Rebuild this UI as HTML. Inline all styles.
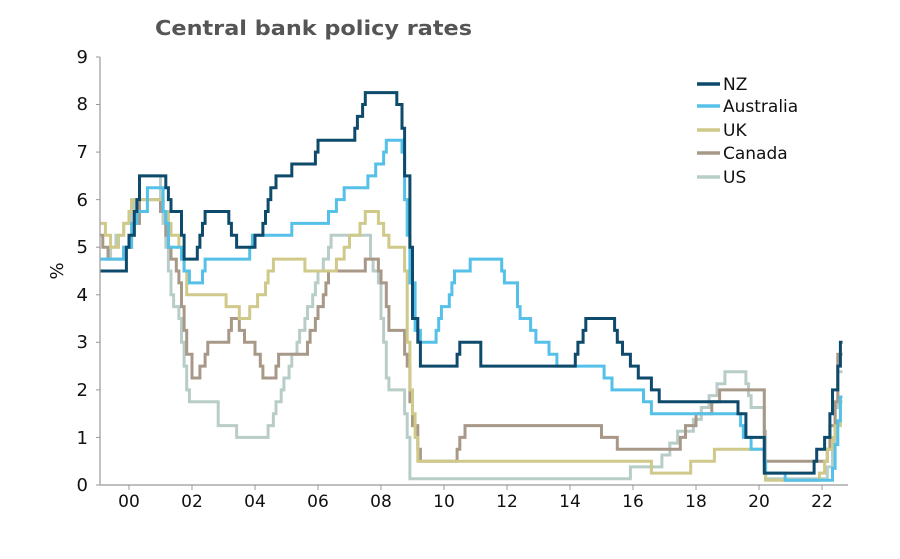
<!DOCTYPE html>
<html><head><meta charset="utf-8"><style>
html,body{margin:0;padding:0;background:#fff}
svg{display:block}
text{font-family:"DejaVu Sans","Liberation Sans",sans-serif}
</style></head><body>
<svg id="c" width="900" height="559" viewBox="0 0 900 559" xmlns="http://www.w3.org/2000/svg">
<text x="155" y="35" font-size="20" font-weight="bold" fill="#555" textLength="317" lengthAdjust="spacingAndGlyphs">Central bank policy rates</text>
<line x1="100" y1="57" x2="100" y2="485" stroke="#999" stroke-width="1.2"/>
<line x1="100" y1="485" x2="848" y2="485" stroke="#999" stroke-width="1.2"/>
<g font-size="18" fill="#111" text-anchor="end">
<text x="88" y="491">0</text><text x="88" y="444">1</text><text x="88" y="396">2</text><text x="88" y="348">3</text><text x="88" y="301">4</text><text x="88" y="253">5</text><text x="88" y="206">6</text><text x="88" y="158">7</text><text x="88" y="110">8</text><text x="88" y="63">9</text>
</g>
<g id="yt" stroke="#999" stroke-width="1"></g>
<g id="xt" stroke="#999" stroke-width="1"></g>
<g id="xl" font-size="17" fill="#111" text-anchor="middle"></g>
<text transform="translate(63,271) rotate(-90)" font-size="18" fill="#111" text-anchor="middle">%</text>
<g id="series" fill="none" stroke-width="3" stroke-linejoin="miter"></g>
<g font-size="17" fill="#111">
<line x1="697" y1="84" x2="720" y2="84" stroke="#0d4a6b" stroke-width="3.5"/><text x="723" y="90">NZ</text>
<line x1="697" y1="106" x2="720" y2="106" stroke="#55c0e8" stroke-width="3.5"/><text x="723" y="112">Australia</text>
<line x1="697" y1="130" x2="720" y2="130" stroke="#cfc98a" stroke-width="3.5"/><text x="723" y="136">UK</text>
<line x1="697" y1="153" x2="720" y2="153" stroke="#a89888" stroke-width="3.5"/><text x="723" y="159">Canada</text>
<line x1="697" y1="177" x2="720" y2="177" stroke="#b8cdc8" stroke-width="3.5"/><text x="723" y="183">US</text>
</g>
</svg>
<script>
var NS="http://www.w3.org/2000/svg";
function X(t){return 129+31.5*(t-2000);}
function Y(v){return 485-47.56*v;}
function el(p,n,a){var e=document.createElementNS(NS,n);for(var k in a)e.setAttribute(k,a[k]);p.appendChild(e);return e;}
var xt=document.getElementById('xt'),xl=document.getElementById('xl');
for(var i=0;i<=11;i++){var x=X(2000+2*i);el(xt,'line',{x1:x,y1:485,x2:x,y2:490});var t=el(xl,'text',{x:x,y:507});t.textContent=(i*2<10?'0':'')+(i*2);}
for(var v=0;v<=9;v++){el(document.getElementById('yt'),'line',{x1:96,y1:Y(v),x2:100,y2:Y(v)});}
function m(y,mo){return y+(mo-1)/12;}
var END=2022.65;
var S={
US:["#b8cdc8",[[1999.1,4.75],[m(1999,6),5.0],[m(1999,8),5.25],[m(1999,11),5.5],[m(2000,2),5.75],[m(2000,3),6.0],[m(2000,5),6.5],[m(2001,1),6.0],[m(2001,2),5.5],[m(2001,3),5.0],[m(2001,4),4.5],[m(2001,5),4.0],[m(2001,6),3.75],[m(2001,8),3.5],[m(2001,9),3.0],[m(2001,10),2.5],[m(2001,11),2.0],[m(2001,12),1.75],[m(2002,11),1.25],[m(2003,6),1.0],[m(2004,6),1.25],[m(2004,8),1.5],[m(2004,9),1.75],[m(2004,11),2.0],[m(2004,12),2.25],[m(2005,2),2.5],[m(2005,3),2.75],[m(2005,5),3.0],[m(2005,6),3.25],[m(2005,8),3.5],[m(2005,9),3.75],[m(2005,11),4.0],[m(2005,12),4.25],[m(2006,1),4.5],[m(2006,3),4.75],[m(2006,5),5.0],[m(2006,6),5.25],[m(2007,9),4.75],[m(2007,10),4.5],[m(2007,12),4.25],[m(2008,1),3.5],[m(2008,2),3.0],[m(2008,3),2.25],[m(2008,4),2.0],[m(2008,10),1.5],[m(2008,11),1.0],[m(2008,12),0.13],[m(2015,12),0.38],[m(2016,12),0.63],[m(2017,3),0.88],[m(2017,6),1.13],[m(2017,12),1.38],[m(2018,3),1.63],[m(2018,6),1.88],[m(2018,9),2.13],[m(2018,12),2.38],[m(2019,8),2.13],[m(2019,9),1.88],[m(2019,10),1.63],[m(2020,3),1.13],[m(2020,3.5),0.13],[m(2022,3),0.38],[m(2022,5),0.88],[m(2022,6),1.63],[m(2022,7),2.38]]],
Canada:["#a89888",[[1999.1,5.25],[m(1999,3),5.0],[m(1999,5),4.75],[m(1999,11),5.0],[m(2000,2),5.25],[m(2000,3),5.5],[m(2000,5),6.0],[m(2001,1),5.75],[m(2001,3),5.25],[m(2001,4),5.0],[m(2001,5),4.75],[m(2001,7),4.5],[m(2001,8),4.25],[m(2001,9),3.75],[m(2001,10),3.25],[m(2001,11),2.75],[m(2002,1),2.25],[m(2002,4),2.5],[m(2002,6),2.75],[m(2002,7),3.0],[m(2003,3),3.25],[m(2003,4),3.5],[m(2003,7),3.25],[m(2003,9),3.0],[m(2004,1),2.75],[m(2004,3),2.5],[m(2004,4),2.25],[m(2004,9),2.5],[m(2004,10),2.75],[m(2005,9),3.0],[m(2005,10),3.25],[m(2005,12),3.5],[m(2006,1),3.75],[m(2006,3),4.0],[m(2006,4),4.25],[m(2006,5),4.5],[m(2007,7),4.75],[m(2007,12),4.5],[m(2008,1),4.25],[m(2008,3),3.75],[m(2008,4),3.25],[m(2008,10),2.75],[m(2008,11),2.5],[m(2008,12),1.75],[m(2009,1),1.25],[m(2009,3),0.75],[m(2009,4),0.5],[m(2010,6),0.75],[m(2010,7),1.0],[m(2010,9),1.25],[m(2015,1),1.0],[m(2015,7),0.75],[m(2017,7),1.0],[m(2017,9),1.25],[m(2018,1),1.5],[m(2018,7),1.75],[m(2018,10),2.0],[m(2020,3),0.5],[m(2022,3),0.75],[m(2022,4),1.25],[m(2022,6),1.75],[m(2022,7),2.75]]],
UK:["#cfc98a",[[1999.1,5.5],[m(1999,4),5.25],[m(1999,6),5.0],[m(1999,9),5.25],[m(1999,11),5.5],[m(2000,1),5.75],[m(2000,2),6.0],[m(2001,2),5.75],[m(2001,4),5.5],[m(2001,5),5.25],[m(2001,8),5.0],[m(2001,9),4.75],[m(2001,10),4.5],[m(2001,11),4.0],[m(2003,2),3.75],[m(2003,7),3.5],[m(2003,11),3.75],[m(2004,2),4.0],[m(2004,5),4.25],[m(2004,6),4.5],[m(2004,8),4.75],[m(2005,8),4.5],[m(2006,8),4.75],[m(2006,11),5.0],[m(2007,1),5.25],[m(2007,5),5.5],[m(2007,7),5.75],[m(2007,12),5.5],[m(2008,2),5.25],[m(2008,4),5.0],[m(2008,10),4.5],[m(2008,11),3.0],[m(2008,12),2.0],[m(2009,1),1.5],[m(2009,2),1.0],[m(2009,3),0.5],[m(2016,8),0.25],[m(2017,11),0.5],[m(2018,8),0.75],[m(2020,3),0.25],[m(2020,3.5),0.1],[m(2021,12),0.25],[m(2022,2),0.5],[m(2022,3),0.75],[m(2022,5),1.0],[m(2022,6),1.25],[m(2022,8),1.75]]],
Australia:["#55c0e8",[[1999.1,4.75],[m(1999,11),5.0],[m(2000,2),5.5],[m(2000,4),5.75],[m(2000,8),6.25],[m(2001,2),5.75],[m(2001,3),5.5],[m(2001,4),5.0],[m(2001,9),4.75],[m(2001,10),4.5],[m(2001,12),4.25],[m(2002,5),4.5],[m(2002,6),4.75],[m(2003,11),5.0],[m(2003,12),5.25],[m(2005,3),5.5],[m(2006,5),5.75],[m(2006,8),6.0],[m(2006,11),6.25],[m(2007,8),6.5],[m(2007,11),6.75],[m(2008,2),7.0],[m(2008,3),7.25],[m(2008,9),7.0],[m(2008,10),6.0],[m(2008,11),5.25],[m(2008,12),4.25],[m(2009,2),3.25],[m(2009,4),3.0],[m(2009,10),3.25],[m(2009,11),3.5],[m(2009,12),3.75],[m(2010,3),4.0],[m(2010,4),4.25],[m(2010,5),4.5],[m(2010,11),4.75],[m(2011,11),4.5],[m(2011,12),4.25],[m(2012,5),3.75],[m(2012,6),3.5],[m(2012,10),3.25],[m(2012,12),3.0],[m(2013,5),2.75],[m(2013,8),2.5],[m(2015,2),2.25],[m(2015,5),2.0],[m(2016,5),1.75],[m(2016,8),1.5],[m(2019,6),1.25],[m(2019,7),1.0],[m(2019,10),0.75],[m(2020,3),0.5],[m(2020,3.5),0.25],[m(2020,11),0.1],[m(2022,5),0.35],[m(2022,6),0.85],[m(2022,7),1.35],[m(2022,8),1.85]]],
NZ:["#0d4a6b",[[1999.1,4.5],[m(1999,12),5.0],[m(2000,1),5.25],[m(2000,3),5.75],[m(2000,4),6.0],[m(2000,5),6.5],[m(2001,3),6.25],[m(2001,4),6.0],[m(2001,5),5.75],[m(2001,9),5.25],[m(2001,10),4.75],[m(2002,3),5.0],[m(2002,4),5.25],[m(2002,5),5.5],[m(2002,6),5.75],[m(2003,3),5.5],[m(2003,4),5.25],[m(2003,6),5.0],[m(2004,1),5.25],[m(2004,4),5.5],[m(2004,5),5.75],[m(2004,6),6.0],[m(2004,7),6.25],[m(2004,9),6.5],[m(2005,3),6.75],[m(2005,12),7.0],[m(2006,1),7.25],[m(2007,3),7.5],[m(2007,4),7.75],[m(2007,6),8.0],[m(2007,7),8.25],[m(2008,7),8.0],[m(2008,9),7.5],[m(2008,10),6.5],[m(2008,12),5.0],[m(2009,1),3.5],[m(2009,3),3.0],[m(2009,4),2.5],[m(2010,6),2.75],[m(2010,7),3.0],[m(2011,3),2.5],[m(2014,3),2.75],[m(2014,4),3.0],[m(2014,6),3.25],[m(2014,7),3.5],[m(2015,6),3.25],[m(2015,7),3.0],[m(2015,9),2.75],[m(2015,12),2.5],[m(2016,3),2.25],[m(2016,8),2.0],[m(2016,11),1.75],[m(2019,5),1.5],[m(2019,8),1.0],[m(2020,3),0.25],[m(2021,10),0.5],[m(2021,11),0.75],[m(2022,2),1.0],[m(2022,4),1.5],[m(2022,5),2.0],[m(2022,7),2.5],[m(2022,8),3.0]]]
};
var g=document.getElementById('series');
["US","Canada","UK","Australia","NZ"].forEach(function(k){
 var c=S[k][0],d=S[k][1],p="M"+X(d[0][0]).toFixed(1)+","+Y(d[0][1]).toFixed(1);
 for(var i=1;i<d.length;i++){p+=" H"+X(d[i][0]).toFixed(1)+" V"+Y(d[i][1]).toFixed(1);}
 p+=" H"+X(END).toFixed(1);
 el(g,'path',{d:p,stroke:c});
});
</script>
</body></html>
